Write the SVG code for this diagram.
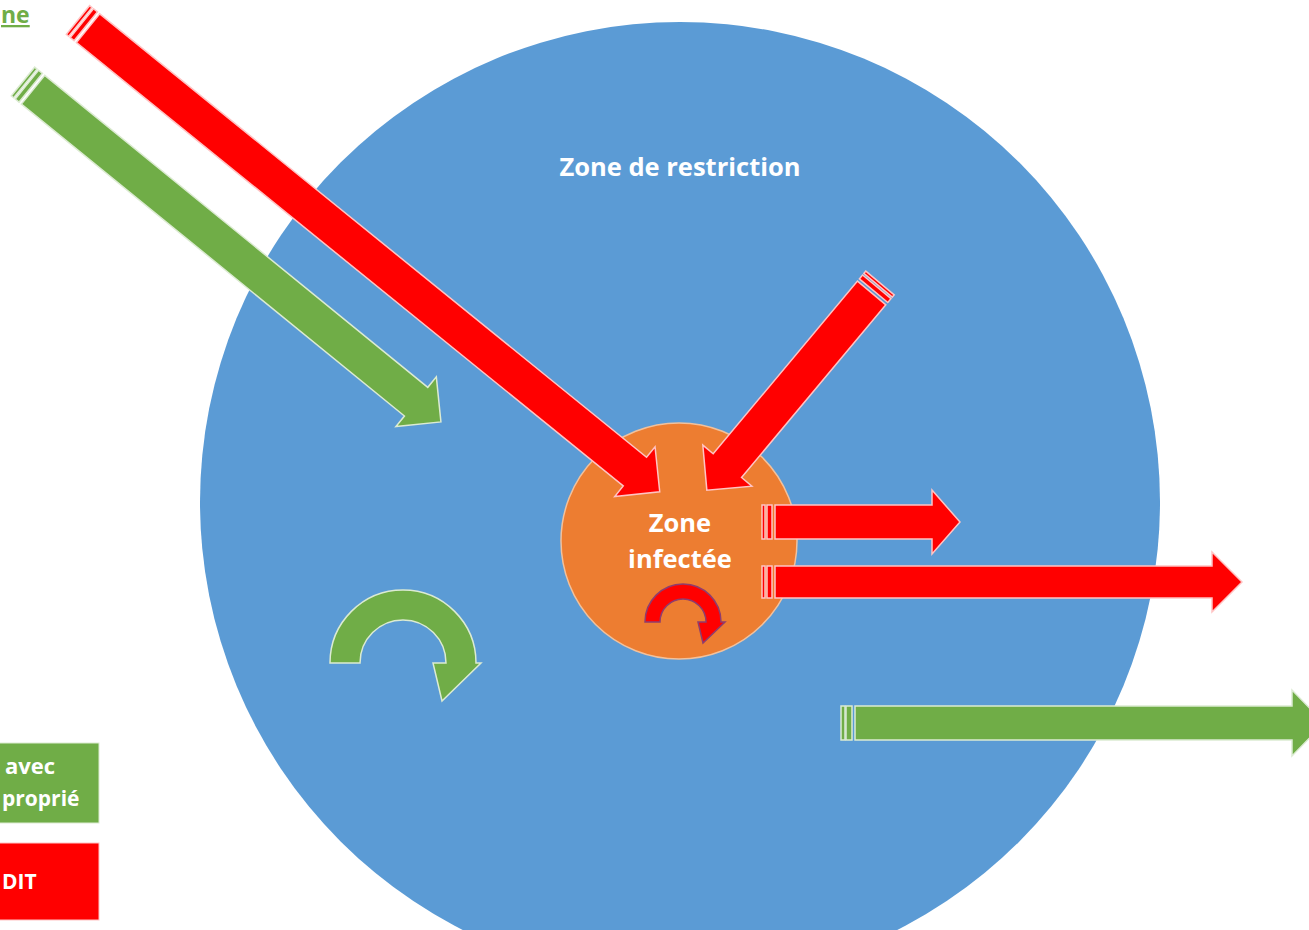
<svg xmlns="http://www.w3.org/2000/svg" width="1309" height="930" viewBox="0 0 1309 930">
<style>
.lbl{font-family:"Open Sans","Liberation Sans",sans-serif;font-weight:700;fill:#ffffff}
.red{fill:#ff0000;stroke:#ffc4c4;stroke-width:1.5}
.grn{fill:#70ad47;stroke:#dcebd2;stroke-width:1.5}
</style>
<rect width="1309" height="930" fill="#ffffff"/>
<g id="zone-restriction">
<circle cx="680" cy="502" r="480" fill="#5b9bd5"/>
<text class="lbl" x="680" y="176" font-size="25.5" text-anchor="middle">Zone de restriction</text>
</g>
<g id="zone-infectee">
<circle cx="679" cy="541" r="118" fill="#ed7d31" stroke="#f2c19c" stroke-width="1.5"/>
<text class="lbl" x="680" y="532" font-size="25.5" text-anchor="middle">Zone</text>
<text class="lbl" x="680" y="568" font-size="25.5" text-anchor="middle">infectée</text>
</g>
<g id="connectors">
<g transform="translate(23,81.5) rotate(39.16)">
<rect class="grn" x="0" y="-18.5" width="3" height="37"/>
<rect class="grn" x="5" y="-18.5" width="5" height="37"/>
<path class="grn" d="M13,-18.5 L507,-18.5 L507,-32 L539,0 L507,32 L507,18.5 L13,18.5 Z"/>
</g>
<g transform="translate(78,20) rotate(39.04)">
<rect class="red" x="0" y="-18.5" width="3" height="37"/>
<rect class="red" x="5" y="-18.5" width="5" height="37"/>
<path class="red" d="M13,-18.5 L717,-18.5 L717,-32 L749,0 L717,32 L717,18.5 L13,18.5 Z"/>
</g>
<g transform="translate(880,283) rotate(129.89)">
<rect class="red" x="0" y="-18.5" width="3" height="37"/>
<rect class="red" x="5" y="-18.5" width="5" height="37"/>
<path class="red" d="M13,-18.5 L238,-18.5 L238,-32 L270,0 L238,32 L238,18.5 L13,18.5 Z"/>
</g>
<rect class="red" x="762" y="505" width="3" height="34"/>
<rect class="red" x="767" y="505" width="5" height="34"/>
<path class="red" d="M775,505 L932,505 L932,490 L960,522 L932,554 L932,539 L775,539 Z"/>
<rect class="red" x="762" y="566" width="3" height="32"/>
<rect class="red" x="767" y="566" width="5" height="32"/>
<path class="red" d="M775,566 L1212,566 L1212,552 L1242,582 L1212,612 L1212,598 L775,598 Z"/>
<rect class="grn" x="841" y="706" width="4" height="34"/>
<rect class="grn" x="846" y="706" width="6" height="34"/>
<path class="grn" d="M855,706 L1292,706 L1292,690 L1324,723 L1292,756 L1292,740 L855,740 Z"/>
<path class="grn" d="M330,663 A73,73 0 0 1 476,663 L481,663 L442,701 L433,663 L446,663 A43,43 0 0 0 360,663 Z"/>
<path d="M645,622 A38,38 0 0 1 721,622 L725,622 L703,643 L698,622 L706,622 A23,23 0 0 0 660,622 Z" fill="#ff0000" stroke="#8e3d6e" stroke-width="1.5"/>
</g>
<g id="legend-vert">
<rect x="-5" y="743" width="104" height="80" fill="#70ad47" stroke="#dcebd2" stroke-width="1"/>
<text class="lbl" x="55" y="774" font-size="22" text-anchor="end">avec</text>
<text class="lbl" x="2" y="806" font-size="21">proprié</text>
</g>
<g id="legend-rouge">
<rect x="-5" y="843" width="104" height="77" fill="#ff0000" stroke="#ffc4c4" stroke-width="1"/>
<text class="lbl" x="2" y="889" font-size="21">DIT</text>
</g>
<g id="titre">
<text x="1" y="23" font-family="Open Sans, Liberation Sans, sans-serif" font-weight="700" font-size="23" fill="#70ad47" text-decoration="underline">ne</text>
</g>
</svg>
